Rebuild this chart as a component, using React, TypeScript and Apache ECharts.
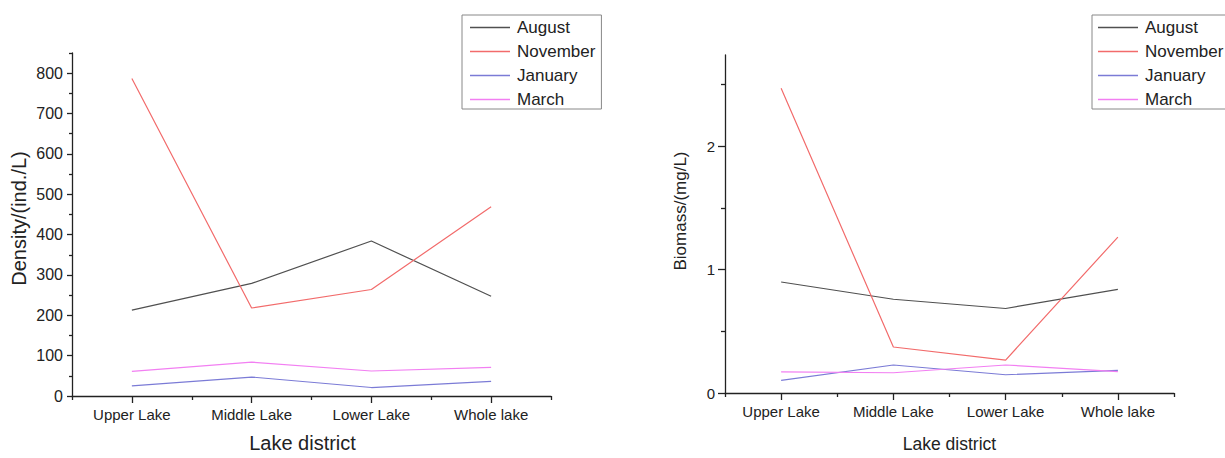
import React, { useEffect, useRef } from "react";
import * as echarts from "echarts";

const categories = ["Upper Lake", "Middle Lake", "Lower Lake", "Whole lake"];
const seriesNames = ["August", "November", "January", "March"];

// Density (ind./L)
const densityAugust = [213, 279, 384, 247];
const densityNovember = [787, 218, 264, 469];
const densityJanuary = [25, 47, 21, 36];
const densityMarch = [61, 84, 62, 71];

// Biomass (mg/L)
const biomassAugust = [0.9, 0.76, 0.685, 0.84];
const biomassNovember = [2.47, 0.373, 0.267, 1.264];
const biomassJanuary = [0.103, 0.227, 0.148, 0.183];
const biomassMarch = [0.171, 0.164, 0.227, 0.174];

const densityMajorTicks = [0, 100, 200, 300, 400, 500, 600, 700, 800];
const densityMinorTicks = [50, 150, 250, 350, 450, 550, 650, 750, 850];
const biomassMajorTicks = [0, 1, 2];
const biomassMinorTicks = [0.5, 1.5, 2.5];

const colors = ["#505050", "#f26b6b", "#7b7bd6", "#f27ff2"];
const FONT = "Liberation Sans, Arial, Helvetica, sans-serif";
const TXT = "#222";

export default function App() {
  const ref = useRef<HTMLDivElement>(null);
  useEffect(() => {
    if (!ref.current) return;
    const chart = echarts.init(ref.current, undefined, { renderer: "svg" });
    const axisLine = { show: true, lineStyle: { color: "#222", width: 1.3 } };
    const tickLine = { color: "#222", width: 1.3 };
    const densitySets = [densityAugust, densityNovember, densityJanuary, densityMarch];
    const biomassSets = [biomassAugust, biomassNovember, biomassJanuary, biomassMarch];

    const legendBase = {
      orient: "vertical" as const,
      itemWidth: 40,
      itemHeight: 1.4,
      itemGap: 7,
      icon: "rect",
      borderColor: "#888",
      borderWidth: 1,
      padding: [4, 6, 1, 8],
      textStyle: { fontSize: 17, lineHeight: 16, color: TXT, fontFamily: FONT, padding: [0, 0, 0, 2] },
      data: seriesNames,
    };

    const minorX = (gridIndex: number) => ({
      type: "category",
      gridIndex,
      position: "bottom",
      data: categories,
      boundaryGap: true,
      axisLine: { show: false },
      axisTick: { show: true, alignWithLabel: false, length: 4, interval: 0, lineStyle: tickLine },
      axisLabel: { show: false },
      splitLine: { show: false },
    });

    const option: any = {
      animation: false,
      backgroundColor: "#fff",
      textStyle: { fontFamily: FONT },
      legend: [
        { ...legendBase, left: 462, top: 15 },
        { ...legendBase, left: 1092, top: 15, padding: [4, 6, 1, 6] },
      ],
      grid: [
        { left: 72, top: 53, width: 479, height: 351, containLabel: false },
        { left: 725, top: 55, width: 449, height: 345, containLabel: false },
      ],
      xAxis: [
        {
          type: "category",
          gridIndex: 0,
          position: "bottom",
          data: categories,
          boundaryGap: true,
          axisLine,
          axisTick: { show: true, alignWithLabel: true, length: 7, interval: 0, lineStyle: tickLine },
          axisLabel: { interval: 0, margin: 11, fontSize: 15, color: TXT, fontFamily: FONT },
          name: "Lake district",
          nameLocation: "middle",
          nameGap: 37,
          nameTextStyle: { fontSize: 20, color: TXT, fontFamily: FONT, padding: [0, 18, 0, 0] },
          splitLine: { show: false },
        },
        minorX(0),
        {
          type: "category",
          gridIndex: 1,
          position: "bottom",
          data: categories,
          boundaryGap: true,
          axisLine,
          axisTick: { show: true, alignWithLabel: true, length: 7, interval: 0, lineStyle: tickLine },
          axisLabel: { interval: 0, margin: 11, fontSize: 15, color: TXT, fontFamily: FONT },
          name: "Lake district",
          nameLocation: "middle",
          nameGap: 42,
          nameTextStyle: { fontSize: 17.5, color: TXT, fontFamily: FONT },
          splitLine: { show: false },
        },
        minorX(1),
      ],
      yAxis: [
        {
          type: "value",
          gridIndex: 0,
          position: "left",
          min: 0,
          max: 850,
          interval: 50,
          axisLine,
          axisTick: { show: true, length: 5, customValues: densityMajorTicks, lineStyle: tickLine },
          axisLabel: { margin: 9, fontSize: 16, color: TXT, fontFamily: FONT, customValues: densityMajorTicks },
          splitLine: { show: false },
          name: "Density/(ind./L)",
          nameLocation: "middle",
          nameGap: 43,
          nameTextStyle: { fontSize: 20, color: TXT, fontFamily: FONT, padding: [0, 0, 0, 12] },
        },
        {
          type: "value",
          gridIndex: 0,
          position: "left",
          min: 0,
          max: 850,
          interval: 50,
          axisLine: { show: false },
          axisTick: { show: true, length: 3, customValues: densityMinorTicks, lineStyle: tickLine },
          axisLabel: { show: false },
          splitLine: { show: false },
        },
        {
          type: "value",
          gridIndex: 1,
          position: "left",
          min: 0,
          max: 2.74,
          interval: 0.5,
          axisLine,
          axisTick: { show: true, length: 7, customValues: biomassMajorTicks, lineStyle: tickLine },
          axisLabel: { margin: 10, fontSize: 15, color: TXT, fontFamily: FONT, customValues: biomassMajorTicks },
          splitLine: { show: false },
          name: "Biomass/(mg/L)",
          nameLocation: "middle",
          nameGap: 36,
          nameTextStyle: { fontSize: 17, color: TXT, fontFamily: FONT, padding: [0, 0, 0, 26] },
        },
        {
          type: "value",
          gridIndex: 1,
          position: "left",
          min: 0,
          max: 2.74,
          interval: 0.5,
          axisLine: { show: false },
          axisTick: { show: true, length: 4, customValues: biomassMinorTicks, lineStyle: tickLine },
          axisLabel: { show: false },
          splitLine: { show: false },
        },
      ],
      series: [
        ...seriesNames.map((name, i) => ({
          name,
          type: "line",
          xAxisIndex: 0,
          yAxisIndex: 0,
          data: densitySets[i],
          symbol: "none",
          lineStyle: { color: colors[i], width: 1.2 },
          itemStyle: { color: colors[i] },
        })),
        ...seriesNames.map((name, i) => ({
          name,
          type: "line",
          xAxisIndex: 2,
          yAxisIndex: 2,
          data: biomassSets[i],
          symbol: "none",
          lineStyle: { color: colors[i], width: 1.2 },
          itemStyle: { color: colors[i] },
        })),
      ],
    };
    chart.setOption(option);
    return () => chart.dispose();
  }, []);
  return (
    <div
      ref={ref}
      style={{ position: "fixed", left: 0, top: 0, width: 1225, height: 458, background: "#fff" }}
    />
  );
}
